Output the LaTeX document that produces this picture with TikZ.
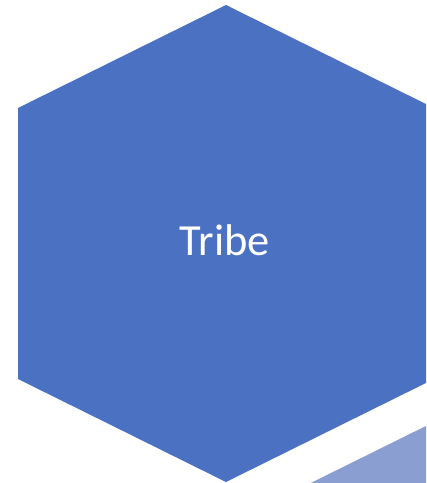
\documentclass[tikz,border=0pt]{standalone}
\usepackage{fontspec}
\setmainfont{Carlito}
\usepackage{tikz}
\usetikzlibrary{positioning,calc}
\definecolor{hexblue}{HTML}{4A71C2}
\definecolor{hexlight}{HTML}{8A9ED2}

\begin{document}
\begin{tikzpicture}[
    x=0.02cm, y=-0.02cm,
    hexdark/.style={fill=hexblue, draw=none},
    hexpale/.style={fill=hexlight, draw=none},
    tribetext/.style={text=white, font=\fontsize{25.3}{30}\selectfont, inner sep=0pt}
]
    \useasboundingbox (0,0) rectangle (426,483);
    \clip (0,0) rectangle (426,483);

    % Main hexagon
    \draw[hexdark] (226,5) -- (434,108) -- (434,379) -- (226,482) -- (18,379) -- (18,108) -- cycle;

    % Neighbouring hexagon, cut off in the corner
    \begin{scope}[shift={(216,413)}]
        \draw[hexpale] (226,5) -- (434,108) -- (434,379) -- (226,482) -- (18,379) -- (18,108) -- cycle;
    \end{scope}

    \node[tribetext, anchor=base] (TRIBE) at (225,255) {Tribe};
\end{tikzpicture}
\end{document}
